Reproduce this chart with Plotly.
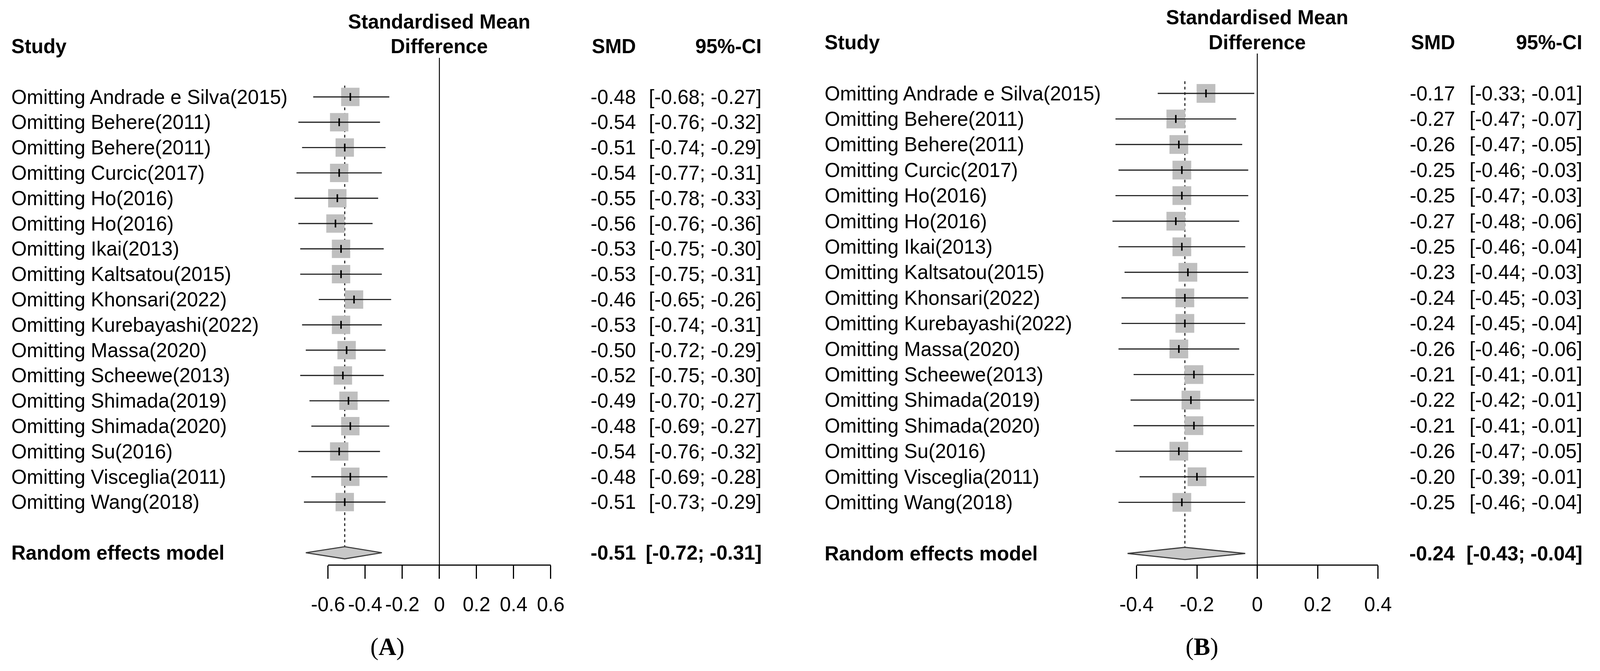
import plotly.graph_objects as go

# Reference frame (pixels) used to lay things out; the figure itself fills the window
W, H = 4277, 1717
S = 0.96  # CSS-px to screenshot-px compensation for sizes
FONT = "Liberation Sans, Arial, Helvetica, sans-serif"
SERIF = "Liberation Serif, Times New Roman, serif"
FS = round(53 * S, 1)

# ---------------- data ----------------
studies = [
    "Omitting Andrade e Silva(2015)", "Omitting Behere(2011)", "Omitting Behere(2011)",
    "Omitting Curcic(2017)", "Omitting Ho(2016)", "Omitting Ho(2016)", "Omitting Ikai(2013)",
    "Omitting Kaltsatou(2015)", "Omitting Khonsari(2022)", "Omitting Kurebayashi(2022)",
    "Omitting Massa(2020)", "Omitting Scheewe(2013)", "Omitting Shimada(2019)",
    "Omitting Shimada(2020)", "Omitting Su(2016)", "Omitting Visceglia(2011)", "Omitting Wang(2018)",
]

smd_a = [-0.48, -0.54, -0.51, -0.54, -0.55, -0.56, -0.53, -0.53, -0.46, -0.53, -0.50, -0.52, -0.49, -0.48, -0.54, -0.48, -0.51]
lo_a = [-0.68, -0.76, -0.74, -0.77, -0.78, -0.76, -0.75, -0.75, -0.65, -0.74, -0.72, -0.75, -0.70, -0.69, -0.76, -0.69, -0.73]
hi_a = [-0.27, -0.32, -0.29, -0.31, -0.33, -0.36, -0.30, -0.31, -0.26, -0.31, -0.29, -0.30, -0.27, -0.27, -0.32, -0.28, -0.29]
pooled_a = [-0.51, -0.72, -0.31]
ticks_a = [-0.6, -0.4, -0.2, 0, 0.2, 0.4, 0.6]
ticklabels_a = ["-0.6", "-0.4", "-0.2", "0", "0.2", "0.4", "0.6"]

smd_b = [-0.17, -0.27, -0.26, -0.25, -0.25, -0.27, -0.25, -0.23, -0.24, -0.24, -0.26, -0.21, -0.22, -0.21, -0.26, -0.20, -0.25]
lo_b = [-0.33, -0.47, -0.47, -0.46, -0.47, -0.48, -0.46, -0.44, -0.45, -0.45, -0.46, -0.41, -0.42, -0.41, -0.47, -0.39, -0.46]
hi_b = [-0.01, -0.07, -0.05, -0.03, -0.03, -0.06, -0.04, -0.03, -0.03, -0.04, -0.06, -0.01, -0.01, -0.01, -0.05, -0.01, -0.04]
pooled_b = [-0.24, -0.43, -0.04]
ticks_b = [-0.4, -0.2, 0, 0.2, 0.4]
ticklabels_b = ["-0.4", "-0.2", "0", "0.2", "0.4"]

summary_label = "Random effects model"
tags = ["A", "B"]

# ---------------- layout constants (reference pixels) ----------------
AXIS_PX = 1446
YDOM_BOTTOM_PX = 1500
SUMMARY_ROW = 19
DIAMOND_H = 0.24

panels = [
    dict(smd=smd_a, lo=lo_a, hi=hi_a, pooled=pooled_a, ticks=ticks_a, ticklabels=ticklabels_a,
         xa="x", ya="y", xkey="xaxis", ykey="yaxis",
         zero_px=1176, ppu=496.7, dom_px=(770, 1520), row1=248, step=64.8,
         zero_top=148, dash_top=219, label_x=29, smd_x=1703, ci_x=2040,
         tag_x=1037, box=49, tag=tags[0]),
    dict(smd=smd_b, lo=lo_b, hi=hi_b, pooled=pooled_b, ticks=ticks_b, ticklabels=ticklabels_b,
         xa="x2", ya="y2", xkey="xaxis2", ykey="yaxis2",
         zero_px=3365, ppu=807.5, dom_px=(2960, 3720), row1=239, step=65.4,
         zero_top=137, dash_top=208, label_x=2206, smd_x=3895, ci_x=4236,
         tag_x=3217, box=50, tag=tags[1]),
]

fig = go.Figure()
annotations = []


def py(p):
    return 1 - p / H


for P in panels:
    idx = lambda px: 1 + (px - P["row1"]) / P["step"]
    rows = list(range(1, len(studies) + 1))
    axis_row = idx(AXIS_PX)
    pm, pl, ph = P["pooled"]

    # zero line
    fig.add_trace(go.Scatter(x=[0, 0], y=[idx(P["zero_top"]), axis_row], mode="lines",
                             line=dict(color="black", width=2.5 * S),
                             xaxis=P["xa"], yaxis=P["ya"], hoverinfo="skip"))
    # pooled estimate dashed line
    fig.add_trace(go.Scatter(x=[pm, pm], y=[idx(P["dash_top"]), SUMMARY_ROW - DIAMOND_H], mode="lines",
                             line=dict(color="black", width=2.5 * S, dash="7px,7px"),
                             xaxis=P["xa"], yaxis=P["ya"], hoverinfo="skip"))
    # boxes
    fig.add_trace(go.Scatter(x=P["smd"], y=rows, mode="markers",
                             marker=dict(symbol="square", size=P["box"] * S, color="#bfbfbf",
                                         line=dict(width=0)),
                             xaxis=P["xa"], yaxis=P["ya"], hoverinfo="skip"))
    # CI lines
    cx, cy = [], []
    for r, lo, hi in zip(rows, P["lo"], P["hi"]):
        cx += [lo, hi, None]
        cy += [r, r, None]
    fig.add_trace(go.Scatter(x=cx, y=cy, mode="lines", line=dict(color="#1e1e1e", width=3 * S),
                             xaxis=P["xa"], yaxis=P["ya"], hoverinfo="skip"))
    # point estimate ticks
    fig.add_trace(go.Scatter(x=P["smd"], y=rows, mode="markers",
                             marker=dict(symbol="line-ns", size=15 * S,
                                         line=dict(width=4 * S, color="black")),
                             xaxis=P["xa"], yaxis=P["ya"], hoverinfo="skip"))
    # diamond
    fig.add_trace(go.Scatter(x=[pl, pm, ph, pm, pl],
                             y=[SUMMARY_ROW, SUMMARY_ROW - DIAMOND_H, SUMMARY_ROW,
                                SUMMARY_ROW + DIAMOND_H, SUMMARY_ROW],
                             mode="lines", fill="toself", fillcolor="#c8c8c8",
                             line=dict(color="#3c3c3c", width=3 * S),
                             xaxis=P["xa"], yaxis=P["ya"], hoverinfo="skip"))
    # axis baseline
    fig.add_trace(go.Scatter(x=[P["ticks"][0], P["ticks"][-1]], y=[axis_row, axis_row], mode="lines",
                             line=dict(color="black", width=3 * S),
                             xaxis=P["xa"], yaxis=P["ya"], hoverinfo="skip"))

    d0, d1 = P["dom_px"]
    fig.layout[P["xkey"]] = dict(
        domain=[d0 / W, d1 / W],
        range=[(d0 - P["zero_px"]) / P["ppu"], (d1 - P["zero_px"]) / P["ppu"]],
        anchor="free", position=py(AXIS_PX), side="bottom",
        showline=False, showgrid=False, zeroline=False,
        ticks="outside", ticklen=35 * S, tickwidth=3 * S, tickcolor="black",
        tickmode="array", tickvals=P["ticks"], ticktext=P["ticklabels"],
        tickfont=dict(family=FONT, size=FS, color="black"), tickangle=0,
        ticklabelstandoff=round(23 * S), fixedrange=True,
    )
    fig.layout[P["ykey"]] = dict(
        domain=[py(YDOM_BOTTOM_PX), 1.0],
        range=[idx(YDOM_BOTTOM_PX), idx(0)],
        anchor=P["xa"], visible=False, showgrid=False, zeroline=False, fixedrange=True,
    )

    yref = P["ya"]
    txt = dict(family=FONT, size=FS, color="black")

    def ann(text, x, y, xanchor, xref="paper"):
        annotations.append(dict(text=text, x=x, y=y, xref=xref, yref=yref, xanchor=xanchor,
                                yanchor="middle", showarrow=False, font=txt, borderpad=0))

    # headers
    ann("<b>Study</b>", P["label_x"] / W, -1, "left")
    ann("<b>SMD</b>", P["smd_x"] / W, -1, "right")
    ann("<b>95%-CI</b>", P["ci_x"] / W, -1, "right")
    ann("<b>Standardised Mean</b>", 0, -1.97, "center", xref=P["xa"])
    ann("<b>Difference</b>", 0, -1, "center", xref=P["xa"])

    # rows
    for r, s, m, lo, hi in zip(rows, studies, P["smd"], P["lo"], P["hi"]):
        ann(s, P["label_x"] / W, r, "left")
        ann(f"{m:.2f}", P["smd_x"] / W, r, "right")
        ann(f"[{lo:.2f}; {hi:.2f}]", P["ci_x"] / W, r, "right")

    # summary
    ann(f"<b>{summary_label}</b>", P["label_x"] / W, SUMMARY_ROW, "left")
    ann(f"<b>{pm:.2f}</b>", P["smd_x"] / W, SUMMARY_ROW, "right")
    ann(f"<b>[{pl:.2f}; {ph:.2f}]</b>", P["ci_x"] / W, SUMMARY_ROW, "right")

    # panel tag
    annotations.append(dict(text=f"(<b>{P['tag']}</b>)", x=P["tag_x"] / W, y=py(1655),
                            xref="paper", yref="paper", xanchor="center", yanchor="middle",
                            showarrow=False, font=dict(family=SERIF, size=round(66 * S), color="black")))

fig.update_layout(
    autosize=True, margin=dict(l=0, r=0, t=0, b=0, pad=0),
    paper_bgcolor="white", plot_bgcolor="rgba(0,0,0,0)",
    showlegend=False, annotations=annotations,
)

# make the figure fill the browser window exactly (no body margin, no scrollbars)
fit_window = """
var gd = document.getElementById('{plot_id}');
document.documentElement.style.margin = '0';
document.documentElement.style.padding = '0';
document.documentElement.style.overflow = 'hidden';
document.body.style.margin = '0';
document.body.style.padding = '0';
document.body.style.overflow = 'hidden';
gd.style.width = '100vw';
gd.style.height = '100vh';
Plotly.Plots.resize(gd);
"""

fig.write_html("out.html", config={"responsive": True, "displayModeBar": False},
               post_script=fit_window)
